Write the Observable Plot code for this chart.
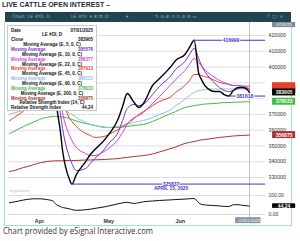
<!DOCTYPE html>
<html><head><meta charset="utf-8">
<script src="https://cdn.jsdelivr.net/npm/d3@7"></script>
<script src="https://cdn.jsdelivr.net/npm/@observablehq/plot@0.6"></script>
<style>
html,body{margin:0;padding:0;background:#fff;width:300px;height:241px;overflow:hidden;font-family:"Liberation Sans",Arial,sans-serif}
.abs{position:absolute;white-space:nowrap}
#title{left:2px;top:0px;font:bold 7.6px "Liberation Sans",Arial,sans-serif;color:#1b2b3b;transform-origin:0 0}
#bar{left:5px;top:12px;width:286px;height:10px;background:#21444f}
#bar span{position:absolute;top:2.2px;font:4.6px/5px "DejaVu Sans",sans-serif;color:#9fb3bb}
#frame{left:4px;top:22px;width:286px;height:203px;border:1px solid #a6d8f0;border-top:none}
#main{left:5px;top:22px}
#rsi{left:5px;top:190px}
#legend{left:7px;top:25px;width:90px;height:86px;background:#fff;border:1px solid #c9c9c9;box-sizing:border-box}
#legend div{position:absolute;left:3px;right:3px;height:5px;font:bold 4.5px "Liberation Sans",Arial,sans-serif;line-height:5px}
#legend .c{text-align:center;color:#111}
#legend .r{position:absolute;right:0}
#caption{left:3px;top:225px;font:8.4px "Open Sans",sans-serif;color:#333;transform-origin:0 0}
</style></head><body>
<div id="title" class="abs">LIVE CATTLE OPEN INTEREST –</div>
<div id="bar" class="abs"><span style="left:7px">Chart: LE #OI, D</span><span style="left:66px">LE #OI&nbsp;&nbsp;▾ ⊕ ⊟</span><span style="left:100px">D&nbsp;&nbsp;&nbsp;&nbsp;&nbsp;&nbsp;&nbsp;&nbsp;&nbsp;&nbsp;&nbsp;&nbsp;▾</span><span style="left:150px">✎ ⊖ ⊕ ⊙ ⊙ ⊘ ⟲ ▭</span><span style="left:262px">?&nbsp;&nbsp;□&nbsp;&nbsp;×</span></div>
<div id="frame" class="abs"></div>
<div id="main" class="abs"></div>
<div id="rsi" class="abs"></div>
<div id="legend" class="abs"></div>
<div id="caption" class="abs">Chart provided by eSignal Interactive.com</div>
<script>
// ---- data ----
const dates = ["2025-03-19","2025-03-21","2025-03-25","2025-03-27","2025-03-31","2025-04-02","2025-04-04","2025-04-07","2025-04-08","2025-04-09","2025-04-10","2025-04-11","2025-04-14","2025-04-15","2025-04-17","2025-04-21","2025-04-23","2025-04-25","2025-04-29","2025-05-01","2025-05-05","2025-05-07","2025-05-09","2025-05-12","2025-05-14","2025-05-16","2025-05-20","2025-05-23","2025-05-28","2025-05-30","2025-06-03","2025-06-05","2025-06-07","2025-06-09","2025-06-10","2025-06-12","2025-06-16","2025-06-18","2025-06-20","2025-06-22","2025-06-24","2025-06-26","2025-06-28","2025-06-30","2025-07-01"];
const closeOI = [382000,386000,391000,395000,398000,400000,399000,392000,379000,369300,359800,347100,328700,325837,331900,340100,344600,347700,353500,357300,366800,375000,383200,377500,374400,376900,388300,392700,400400,404200,408000,412400,416999,395900,392700,387700,384500,384500,382600,381618,385100,387000,387000,385800,383905];
const ema5 = [378000,382000,388000,392000,395500,398000,398500,395000,389000,379000,371000,361000,342700,338900,334400,335700,338900,342000,347700,351600,358500,366100,373700,376300,375600,376300,382600,387700,394600,398500,403500,408000,411800,405400,401600,396500,389600,387000,385100,384500,385100,386400,387000,386400,385576];
const ema10 = [375000,378000,383000,386000,390000,392500,394000,394000,391000,387000,379000,371000,356600,353500,349000,345200,343900,343900,346500,348400,354100,358500,363600,368000,369300,371200,376900,381300,389000,392100,397800,401600,405400,402900,401000,397800,393400,391500,390200,389000,388300,388300,387700,387000,386377];
const ema22 = [366000,368000,372000,374500,378000,380500,382500,383500,383000,382000,380000,378000,367400,365500,362300,357900,356600,355400,356000,357300,360400,362300,364200,367400,369900,371800,375600,378200,381300,383900,388300,391500,395300,395300,394600,394000,391500,390200,389600,389000,388300,388300,388000,387900,387913];
const ema45 = [370000,371000,372500,373500,375000,376000,377000,377500,377300,377000,376000,375000,370600,370000,368000,364900,363600,363000,361700,361700,362300,363000,363600,364900,365500,366100,368000,370000,373100,375600,379400,382000,383900,385100,385400,385800,386100,386100,386100,386100,386100,386100,386100,386100,386121];
const ema90 = [357900,359200,362300,363600,366100,367400,368000,368700,368700,368600,368400,368300,367400,366800,365800,364200,363600,363000,362000,361700,361700,362000,362300,363000,363300,363600,365500,367400,370600,371800,374400,375000,375600,376000,376300,376600,376900,377200,377500,377500,377700,377800,377900,378000,378033];
const ema200 = [333800,334400,336300,337000,338900,339500,340100,340500,340600,340600,340600,340600,340800,340800,340800,341100,341100,341200,341400,341600,342000,342400,342700,343300,343600,343900,344900,346200,348400,349300,351600,352200,352800,353500,353800,354100,355000,355400,355700,356000,356300,356500,356600,356800,356875];
const rsi14 = [62,66,76,80,83,82,79,70,55,47,42,37,30,26,22,25,28,32,40,45,56,61,64,58,62,67,71,74,77,79,81,83,84,62,54,50,47,45,43,42,51,52,48,46,44.24];
const yGrid = [330000,340000,350000,360000,370000,380000,390000,400000,410000,420000];
const yLabels = [330000,340000,350000,360000,370000,400000,410000,420000];
const rsiTicks = [0,100];
const monthTicks = ["2025-04-01","2025-05-01","2025-06-01"];
const seriesColors = ["#000000","#7433c4","#d43fd8","#e2432c","#8cc0dc","#3dbb42","#a8332f"];
const legendHeads = ["Moving Average (E, 5, 0, C)","Moving Average (E, 10, 0, C)","Moving Average (E, 22, 0, C)","Moving Average (E, 45, 0, C)","Moving Average (E, 90, 0, C)","Moving Average (E, 200, 0, C)"];
const peakVal = 416999, lowVal = 325837, recentLow = 381618;

// ---- build ----
const P = d3.utcParse("%Y-%m-%d");
const X = dates.map(P);
const lastDate = X[X.length-1];
const off = n => d3.utcDay.offset(lastDate, n);
const allSeries = [closeOI, ema5, ema10, ema22, ema45, ema90, ema200];
const long = [];
allSeries.forEach((arr, s) => arr.forEach((v, i) => long.push({s, date: X[i], v})));
const blue = "#3b36c9";
const font = "Liberation Sans, Arial, sans-serif";
const fmt = d => String(d);
const peakDate = X[closeOI.indexOf(peakVal)];
const lowDate = X[closeOI.indexOf(lowVal)];
const rlDate = X[closeOI.indexOf(recentLow)];

const xs = {type: "utc", domain: [P("2025-04-01"), lastDate], range: [34, 244]};
const drawOrder = [6,5,4,3,2,1,0];
const boxes = [4,1,2,3,5,6,0].map(s => ({s, v: allSeries[s][allSeries[s].length-1], show: [0,5,6].includes(s)}));

const main = Plot.plot({
  width: 286, height: 168, marginLeft: 3, marginRight: 26, marginTop: 0, marginBottom: 0,
  style: {fontFamily: font, background: "transparent", overflow: "visible"},
  x: {...xs, axis: null, label: null},
  y: {domain: [330000, 420000], range: [155, 13], axis: null, label: null},
  marks: [
    Plot.ruleY(yGrid, {stroke: "#d6d6d6", strokeWidth: 0.8}),
    Plot.ruleX([lastDate], {stroke: "#b4b4b4", strokeWidth: 0.8}),
    Plot.axisY(yLabels, {anchor: "right", label: null, tickSize: 0, tickPadding: 3, tickFormat: fmt, fontSize: 5.2, fill: "#333"}),
    ...drawOrder.map(s => Plot.line(long.filter(d => d.s === s), {x: "date", y: "v", stroke: seriesColors[s], strokeWidth: s === 0 ? 1.4 : 1, curve: "monotone-x"})),
    Plot.ruleY([peakVal], {x1: peakDate, x2: off(7), stroke: blue, strokeWidth: 1}),
    Plot.text([peakVal], {x: d3.utcDay.offset(peakDate, 16), y: d => d, text: fmt, fill: blue, stroke: "#fff", strokeWidth: 2, paintOrder: "stroke", fontSize: 5, fontWeight: "bold"}),
    Plot.ruleY([recentLow], {x1: rlDate, x2: off(7), stroke: blue, strokeWidth: 1}),
    Plot.text([recentLow], {x: off(-2), y: d => d, text: fmt, fill: blue, stroke: "#fff", strokeWidth: 2, paintOrder: "stroke", fontSize: 5, fontWeight: "bold"}),
    Plot.ruleY([lowVal], {x1: lowDate, x2: off(7), stroke: blue, strokeWidth: 1}),
    Plot.text([lowVal], {x: d3.utcDay.offset(lowDate, 43), y: d => d, text: fmt, fill: blue, stroke: "#fff", strokeWidth: 2, paintOrder: "stroke", fontSize: 5, fontWeight: "bold"}),
    Plot.text(["APRIL 15, 2025"], {x: d3.utcDay.offset(lowDate, 43), y: lowVal, dy: 4.5, text: d => d, fill: blue, fontSize: 4.8, fontWeight: "bold"}),
    Plot.rect(boxes, {x1: off(10), x2: off(20), y1: d => d.v - 2200, y2: d => d.v + 2200, fill: d => seriesColors[d.s]}),
    Plot.text(boxes.filter(d => d.show), {x: off(15), y: "v", text: d => fmt(d.v), fill: "#fff", fontSize: 5, fontWeight: "bold"}),
    Plot.rect([0], {x1: off(10), x2: off(20), y1: 420000 + 8200, y2: 420000 + 5000, fill: "#7d8a96"}),
    Plot.text(["07/01/25"], {x: off(15), y: 420000 + 6600, text: d => d, fill: "#fff", fontSize: 4})
  ]
});
document.getElementById("main").appendChild(main);

const rsiRows = rsi14.map((v, i) => ({date: X[i], v}));
const rsi = Plot.plot({
  width: 286, height: 36, marginLeft: 3, marginRight: 26, marginTop: 0, marginBottom: 9,
  style: {fontFamily: font, background: "transparent", overflow: "visible"},
  x: {...xs, axis: null, label: null},
  y: {domain: [0, 100], range: [24, 5], axis: null, label: null},
  marks: [
    Plot.ruleY(rsiTicks, {stroke: "#d6d6d6", strokeWidth: 0.8}),
    Plot.ruleX([lastDate], {stroke: "#b4b4b4", strokeWidth: 0.8}),
    Plot.axisY(rsiTicks, {anchor: "right", label: null, tickSize: 0, tickPadding: 3, tickFormat: d => d.toFixed(2), fontSize: 5, fill: "#333"}),
    Plot.line(rsiRows, {x: "date", y: "v", stroke: "#111", strokeWidth: 1, curve: "monotone-x"}),
    Plot.rect([rsi14[rsi14.length-1]], {x1: off(10), x2: off(20), y1: d => d - 12, y2: d => d + 12, fill: "#000"}),
    Plot.text([rsi14[rsi14.length-1]], {x: off(15), y: d => d, text: d => d.toFixed(2), fill: "#fff", fontSize: 5, fontWeight: "bold"}),
    Plot.axisX(monthTicks.map(P), {anchor: "bottom", label: null, tickSize: 0, tickPadding: 1.5, tickFormat: d3.utcFormat("%b"), fontSize: 5.4, fontWeight: "bold", fill: "#333"}),
    Plot.rect([0], {x1: off(-5.6), x2: off(5.6), y1: -48, y2: -17, fill: "#8492a3"}),
    Plot.text(["07/01/2025"], {x: lastDate, y: -33, text: d => d, fill: "#fff", fontSize: 4.4}),
    Plot.text(["esignal.com"], {frameAnchor: "top-left", dx: 1, dy: -1, text: d => d, fill: "#b8b8b8", fontSize: 3.8})
  ]
});
document.getElementById("rsi").appendChild(rsi);

// legend
const lg = document.getElementById("legend");
const rows = [];
rows.push({l: "Date", r: "07/01/2025", c: "#111"});
rows.push({head: "LE #OI, D"});
rows.push({l: "Close", r: fmt(closeOI[closeOI.length-1]), c: "#111"});
legendHeads.forEach((h, i) => {
  rows.push({head: h});
  const arr = allSeries[i+1];
  rows.push({l: "Moving Average", r: fmt(arr[arr.length-1]), c: seriesColors[i+1]});
});
rows.push({head: "Relative Strength Index (14, C)"});
rows.push({l: "Relative Strength Index", r: rsi14[rsi14.length-1].toFixed(2), c: "#111"});
rows.forEach((r, i) => {
  const d = document.createElement("div");
  d.style.top = (1.5 + i * 4.86) + "px";
  if (r.head) { d.className = "c"; d.textContent = r.head; }
  else { d.style.color = r.c; d.innerHTML = `<span>${r.l}</span><span class="r">${r.r}</span>`; }
  lg.appendChild(d);
});

// fit title/caption widths
function fit(id, w) { const e = document.getElementById(id); const b = e.getBoundingClientRect().width; e.style.transform = `scaleX(${w / b})`; }
fit("title", 108);
fit("caption", 150);
</script>
</body></html>
